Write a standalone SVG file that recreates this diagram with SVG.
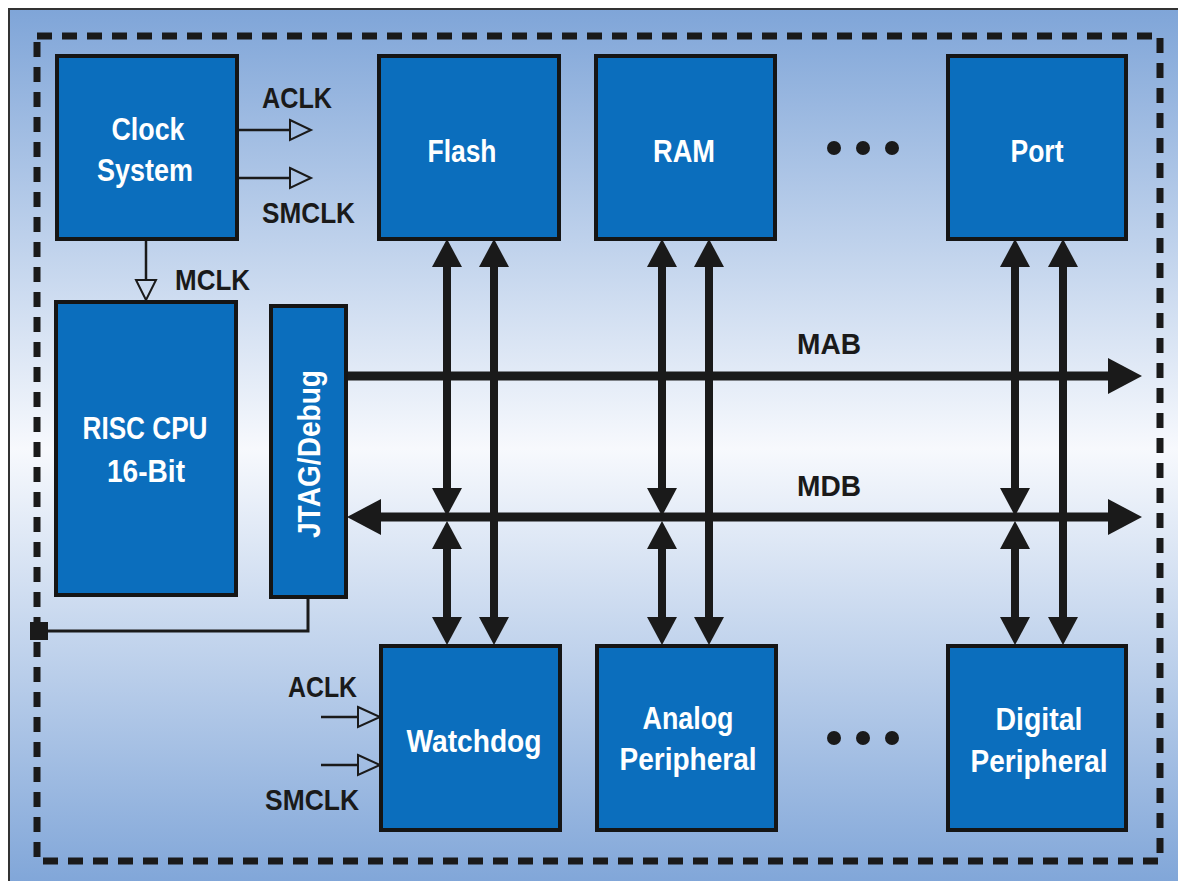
<svg xmlns="http://www.w3.org/2000/svg" width="1178" height="881" viewBox="0 0 1178 881">
<defs>
<linearGradient id="bg" x1="0" y1="0" x2="0" y2="1">
<stop offset="0" stop-color="#7fa5d8"/>
<stop offset="0.5" stop-color="#f7f9fd"/>
<stop offset="1" stop-color="#7fa5d8"/>
</linearGradient>
<marker id="ah" markerUnits="userSpaceOnUse" viewBox="0 0 28 30" markerWidth="28" markerHeight="30" refX="10" refY="15" orient="auto-start-reverse">
<path d="M0,0 L28,15 L0,30 z" fill="#1a1a1a"/>
</marker>
<marker id="bh" markerUnits="userSpaceOnUse" viewBox="0 0 34 36" markerWidth="34" markerHeight="36" refX="14" refY="18" orient="auto-start-reverse">
<path d="M0,0 L34,18 L0,36 z" fill="#1a1a1a"/>
</marker>
</defs>
<style>
.box{fill:#0b6ebd;stroke:#151515;stroke-width:4}
.bt{font-family:"Liberation Sans Narrow","Liberation Sans",Arial,sans-serif;font-weight:bold;font-size:32px;fill:#ffffff;text-anchor:middle}
.lb{font-family:"Liberation Sans Narrow","Liberation Sans",Arial,sans-serif;font-weight:bold;font-size:30px;fill:#1a1a1a}
.bus{stroke:#1a1a1a;stroke-width:9;fill:none}
.va{stroke:#1a1a1a;stroke-width:8;fill:none}
.thin{stroke:#1a1a1a;stroke-width:2.5;fill:none}
.hollow{fill:none;stroke:#1a1a1a;stroke-width:2}
.dot{fill:#1a1a1a}
</style>
<rect x="0" y="0" width="1178" height="881" fill="#ffffff"/>
<rect x="9" y="9" width="1175" height="880" fill="url(#bg)" stroke="#333333" stroke-width="2"/>
<rect id="boundary" x="37" y="36" width="1123" height="825" fill="none" stroke="#1a1a1a" stroke-width="7" stroke-dasharray="15 10"/>

<g id="connectors">
<!-- clock outputs -->
<line class="thin" x1="237" y1="130" x2="290" y2="130"/>
<polygon class="hollow" points="290,120 311,130 290,140"/>
<line class="thin" x1="237" y1="178" x2="290" y2="178"/>
<polygon class="hollow" points="290,168 311,178 290,188"/>
<line class="thin" x1="146" y1="239" x2="146" y2="280"/>
<polygon class="hollow" points="136,280 156,280 146,300"/>
<!-- watchdog inputs -->
<line class="thin" x1="321" y1="717" x2="358" y2="717"/>
<polygon class="hollow" points="358,707 380,717 358,727"/>
<line class="thin" x1="321" y1="765" x2="358" y2="765"/>
<polygon class="hollow" points="358,755 380,765 358,775"/>
<!-- JTAG link -->
<polyline points="308,597 308,631 45,631" fill="none" stroke="#1a1a1a" stroke-width="3"/>
<rect x="30" y="622" width="18" height="18" fill="#1a1a1a"/>
<!-- buses -->
<line class="bus" x1="347" y1="376" x2="1122" y2="376" marker-end="url(#bh)"/>
<line class="bus" x1="367" y1="517" x2="1122" y2="517" marker-start="url(#bh)" marker-end="url(#bh)"/>
<!-- Flash -->
<line class="va" x1="447" y1="257" x2="447" y2="498" marker-start="url(#ah)" marker-end="url(#ah)"/>
<line class="va" x1="447" y1="539" x2="447" y2="627" marker-start="url(#ah)" marker-end="url(#ah)"/>
<line class="va" x1="494" y1="257" x2="494" y2="627" marker-start="url(#ah)" marker-end="url(#ah)"/>
<!-- RAM / Analog -->
<line class="va" x1="662" y1="257" x2="662" y2="498" marker-start="url(#ah)" marker-end="url(#ah)"/>
<line class="va" x1="662" y1="539" x2="662" y2="627" marker-start="url(#ah)" marker-end="url(#ah)"/>
<line class="va" x1="709" y1="257" x2="709" y2="627" marker-start="url(#ah)" marker-end="url(#ah)"/>
<!-- Port / Digital -->
<line class="va" x1="1015" y1="257" x2="1015" y2="498" marker-start="url(#ah)" marker-end="url(#ah)"/>
<line class="va" x1="1015" y1="539" x2="1015" y2="627" marker-start="url(#ah)" marker-end="url(#ah)"/>
<line class="va" x1="1063" y1="257" x2="1063" y2="627" marker-start="url(#ah)" marker-end="url(#ah)"/>
</g>

<g id="labels">
<text class="lb" x="262" y="108" textLength="70" lengthAdjust="spacingAndGlyphs">ACLK</text>
<text class="lb" x="262" y="223" textLength="93" lengthAdjust="spacingAndGlyphs">SMCLK</text>
<text class="lb" x="175" y="290" textLength="75" lengthAdjust="spacingAndGlyphs">MCLK</text>
<text class="lb" x="288" y="697" textLength="69" lengthAdjust="spacingAndGlyphs">ACLK</text>
<text class="lb" x="265" y="810" textLength="94" lengthAdjust="spacingAndGlyphs">SMCLK</text>
<text class="lb" x="829" y="354" text-anchor="middle" textLength="64" lengthAdjust="spacingAndGlyphs">MAB</text>
<text class="lb" x="829" y="496" text-anchor="middle" textLength="64" lengthAdjust="spacingAndGlyphs">MDB</text>
</g>

<g id="ellipsis-top">
<circle class="dot" cx="834" cy="148" r="7"/>
<circle class="dot" cx="863" cy="148" r="7"/>
<circle class="dot" cx="892" cy="148" r="7"/>
</g>
<g id="ellipsis-bottom">
<circle class="dot" cx="834" cy="738" r="7"/>
<circle class="dot" cx="863" cy="738" r="7"/>
<circle class="dot" cx="892" cy="738" r="7"/>
</g>

<g id="clock-system">
<rect class="box" x="57" y="56" width="180" height="183"/>
<text class="bt" x="148" y="140" textLength="73" lengthAdjust="spacingAndGlyphs">Clock</text>
<text class="bt" x="145" y="181" textLength="96" lengthAdjust="spacingAndGlyphs">System</text>
</g>
<g id="risc-cpu">
<rect class="box" x="56" y="302" width="180" height="293"/>
<text class="bt" x="145" y="439" textLength="125" lengthAdjust="spacingAndGlyphs">RISC CPU</text>
<text class="bt" x="146" y="482" textLength="78" lengthAdjust="spacingAndGlyphs">16-Bit</text>
</g>
<g id="jtag">
<rect class="box" x="271" y="306" width="75" height="291"/>
<text class="bt" transform="translate(320,454) rotate(-90)" textLength="168" lengthAdjust="spacingAndGlyphs">JTAG/Debug</text>
</g>
<g id="flash">
<rect class="box" x="379" y="56" width="180" height="183"/>
<text class="bt" x="462" y="162" textLength="69" lengthAdjust="spacingAndGlyphs">Flash</text>
</g>
<g id="ram">
<rect class="box" x="596" y="56" width="179" height="183"/>
<text class="bt" x="684" y="162" textLength="62" lengthAdjust="spacingAndGlyphs">RAM</text>
</g>
<g id="port">
<rect class="box" x="948" y="56" width="178" height="183"/>
<text class="bt" x="1037" y="162" textLength="53" lengthAdjust="spacingAndGlyphs">Port</text>
</g>
<g id="watchdog">
<rect class="box" x="381" y="646" width="179" height="184"/>
<text class="bt" x="474" y="752" textLength="135" lengthAdjust="spacingAndGlyphs">Watchdog</text>
</g>
<g id="analog-peripheral">
<rect class="box" x="597" y="646" width="179" height="184"/>
<text class="bt" x="688" y="729" textLength="91" lengthAdjust="spacingAndGlyphs">Analog</text>
<text class="bt" x="688" y="770" textLength="137" lengthAdjust="spacingAndGlyphs">Peripheral</text>
</g>
<g id="digital-peripheral">
<rect class="box" x="948" y="646" width="178" height="184"/>
<text class="bt" x="1039" y="730" textLength="87" lengthAdjust="spacingAndGlyphs">Digital</text>
<text class="bt" x="1039" y="772" textLength="137" lengthAdjust="spacingAndGlyphs">Peripheral</text>
</g>
</svg>
